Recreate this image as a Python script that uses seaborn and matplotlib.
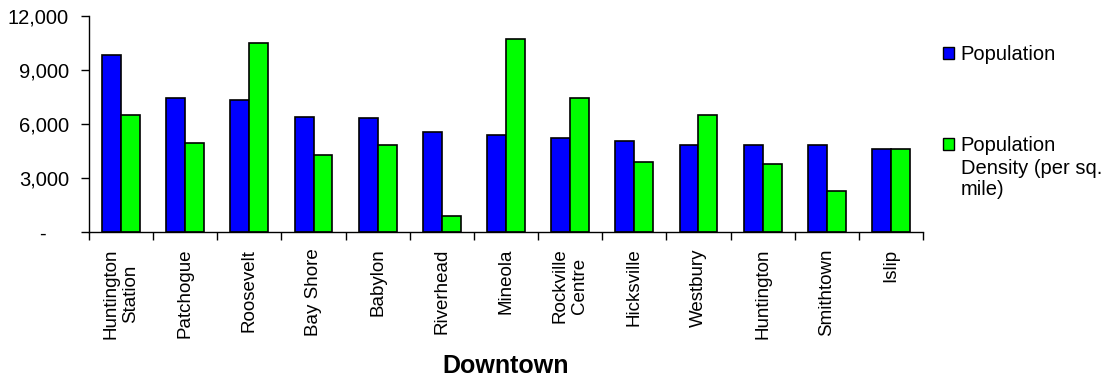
import matplotlib
matplotlib.use("Agg")
import matplotlib.pyplot as plt
from matplotlib.patches import Patch
import numpy as np
import pandas as pd
import seaborn as sns

# Downtown areas and their figures
downtowns = [
    "Huntington\nStation", "Patchogue", "Roosevelt", "Bay Shore", "Babylon",
    "Riverhead", "Mineola", "Rockville\nCentre", "Hicksville", "Westbury",
    "Huntington", "Smithtown", "Islip",
]
population = [9820, 7430, 7350, 6390, 6310, 5540, 5370, 5200, 5040, 4850,
              4850, 4850, 4590]
density = [6480, 4960, 10500, 4260, 4850, 910, 10740, 7430, 3910, 6480,
           3760, 2290, 4590]

series_names = ["Population", "Population\nDensity (per sq.\nmile)"]
y_ticks = [0, 3000, 6000, 9000, 12000]
y_tick_labels = ["-    ", "3,000", "6,000", "9,000", "12,000"]

sns.set_theme(style="white")
plt.rcParams["font.family"] = ["Liberation Sans", "DejaVu Sans"]
plt.rcParams.update({"text.color": "black", "axes.labelcolor": "black",
                     "xtick.color": "black", "ytick.color": "black"})

df = pd.DataFrame({
    "Downtown": downtowns * 2,
    "Series": ["Population"] * len(downtowns) + ["Density"] * len(downtowns),
    "Value": population + density,
})

fig = plt.figure(figsize=(11.05, 3.76), dpi=100)
ax = fig.add_axes([89 / 1105, 1 - 232 / 376, (923 - 89) / 1105, 216 / 376])

colors = ["#0000FF", "#00FF00"]
sns.barplot(data=df, x="Downtown", y="Value", hue="Series",
            order=downtowns, hue_order=["Population", "Density"],
            palette=colors, saturation=1, width=0.59, errorbar=None,
            edgecolor="black", linewidth=1.2, legend=False, ax=ax)

ax.set_ylim(0, 12000)
ax.set_yticks(y_ticks)
ax.set_yticklabels(y_tick_labels, fontsize=14.5, color="black")
ax.tick_params(axis="y", which="major", direction="out", length=6, width=1,
               color="black", pad=8.5, left=True)

# category labels at group centres, tick marks between groups
n = len(downtowns)
ax.set_xlim(-0.5, n - 0.5)
ax.set_xticks(np.arange(n))
ax.set_xticklabels(downtowns, rotation=90, fontsize=13.5, ha="center",
                   va="top", multialignment="center", color="black")
ax.set_xticks(np.arange(n + 1) - 0.5, minor=True)
ax.tick_params(axis="x", which="major", length=0, pad=12)
ax.tick_params(axis="x", which="minor", direction="out", length=6, width=1,
               color="black", bottom=True)

for side in ("top", "right"):
    ax.spines[side].set_visible(False)
for side in ("left", "bottom"):
    ax.spines[side].set_color("black")
    ax.spines[side].set_linewidth(1)

ax.set_ylabel("")
ax.set_xlabel("Downtown", fontsize=18, fontweight="bold", color="black")
ax.xaxis.set_label_coords(0.5, (232 - 366) / 216)
ax.xaxis.label.set_va("center")

# legend, one block per series
common = dict(frameon=False, fontsize=14.5, handlelength=0.55,
              handleheight=0.55, handletextpad=0.33, borderpad=0,
              borderaxespad=0, labelcolor="black")
leg1 = fig.legend(handles=[Patch(facecolor=colors[0], edgecolor="black")],
                  labels=["Population"], loc="center left",
                  bbox_to_anchor=(943 / 1105, 1 - 55 / 376), **common)
first, rest = series_names[1].split("\n", 1)
leg2 = fig.legend(handles=[Patch(facecolor=colors[1], edgecolor="black"),
                           Patch(facecolor="none", edgecolor="none")],
                  labels=[first, rest], loc="upper left", labelspacing=0.22,
                  bbox_to_anchor=(943 / 1105, 1 - 136 / 376), **common)
leg2.get_texts()[1].set_linespacing(1.08)

fig.savefig("out.png", dpi=100)
